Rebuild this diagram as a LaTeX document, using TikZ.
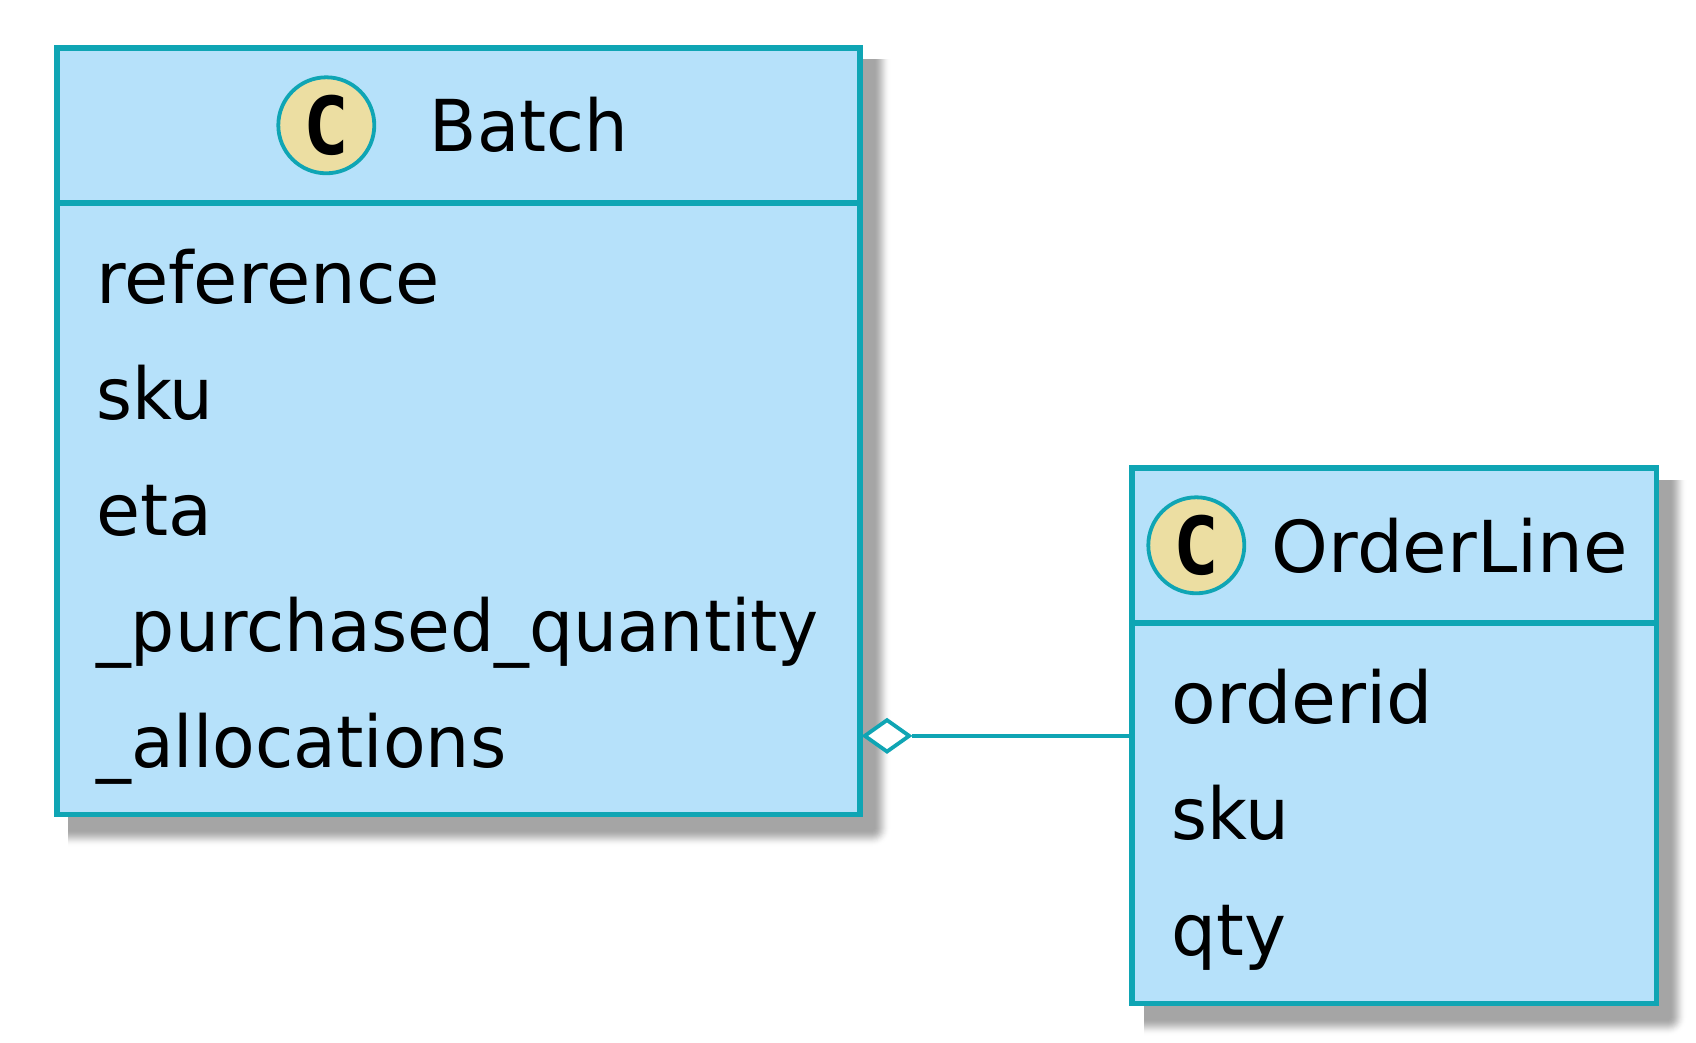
\documentclass[tikz,border=0pt]{standalone}
\usepackage{xcolor}
\usepackage{graphicx}
\usepackage{fontspec}
\setmainfont{DejaVu Sans}
\setmonofont{DejaVu Sans Mono}
\usepackage{tikz}
\usetikzlibrary{shapes.geometric}

\definecolor{classline}{HTML}{0FA5B4}
\definecolor{classfill}{HTML}{B6E1FA}
\definecolor{markfill}{HTML}{ECDEA2}
\definecolor{shadowgray}{HTML}{A5A5A5}

\tikzset{
	classbox/.style={shape=rectangle, draw=classline, fill=classfill, line width=5.8pt, inner sep=0pt, outer sep=0pt},
	classrule/.style={draw=classline, line width=5.8pt},
	classmark/.style={shape=circle, draw=classline, fill=markfill, line width=3.8pt, minimum size=96pt, inner sep=0pt, font=\fontsize{80}{86}\selectfont\ttfamily\bfseries},
	classtext/.style={anchor=base west, inner sep=0pt, font=\fontsize{71.6}{86}\selectfont},
	relation/.style={draw=classline, line width=3.6pt},
}

\newcommand{\squeeze}[2]{\scalebox{#1}[1]{#2}}
\newcommand{\markletter}{\raisebox{-1pt}{\squeeze{.95}{C}}\hspace{6pt}}

\newcommand{\boxshadow}[4]{
	\begin{scope}
		\clip (#1, #2) rectangle (#3+18, #4+18);
		\foreach \s in {17,16,...,0} {
			\pgfmathsetmacro{\p}{50+50*cos(180*\s/17)}
			\fill[shadowgray!\p!white, rounded corners=\s pt+2pt] (#1-30, #2-30) rectangle (#3+\s, #4+\s);
		}
	\end{scope}
}

\begin{document}
\begin{tikzpicture}[x=1pt, y=-1pt]
	\useasboundingbox (0, 0) rectangle (1696, 1043);

	\boxshadow{68}{60}{874}{830}
	\boxshadow{1144}{480}{1670}{1019}

	\node[classbox, minimum width=803.6pt, minimum height=766.2pt] (B) at (458.4, 431.4) {};
	\node[classbox, minimum width=524.2pt, minimum height=535.1pt] (O) at (1394.3, 735.85) {};

	\draw[classrule] (B.west |- 0, 203.3) -- (B.east |- 0, 203.3);
	\draw[classrule] (O.west |- 0, 623.3) -- (O.east |- 0, 623.3);

	\node[classmark] (Bc) at (326.3, 125.3) {\markletter};
	\node[classtext] (Bt) at (429.6, 152) {\squeeze{.962}{Batch}};
	\node[classtext] (Bf1) at (96, 303.7) {\squeeze{1.006}{reference}};
	\node[classtext] (Bf2) at (96, 419.7) {\squeeze{.963}{sku}};
	\node[classtext] (Bf3) at (96, 535.7) {eta};
	\node[classtext] (Bf4) at (96, 651.7) {\squeeze{.971}{\_purchased\_quantity}};
	\node[classtext] (Bf5) at (96, 767.7) {\squeeze{.974}{\_allocations}};

	\node[classmark] (Oc) at (1196.3, 545.3) {\markletter};
	\node[classtext] (Ot) at (1271.5, 572) {\squeeze{1.009}{OrderLine}};
	\node[classtext] (Of1) at (1171.7, 723.7) {\squeeze{1.02}{orderid}};
	\node[classtext] (Of2) at (1171.7, 839.5) {\squeeze{.963}{sku}};
	\node[classtext] (Of3) at (1171.7, 955.5) {\squeeze{.99}{qty}};

	\node[shape=diamond, draw=classline, fill=white, line width=3.8pt, inner sep=0pt, minimum width=46pt, minimum height=33pt] (A) at (887, 735.85) {};
	\path[relation] (A.east) -- (O.west);
\end{tikzpicture}
\end{document}
